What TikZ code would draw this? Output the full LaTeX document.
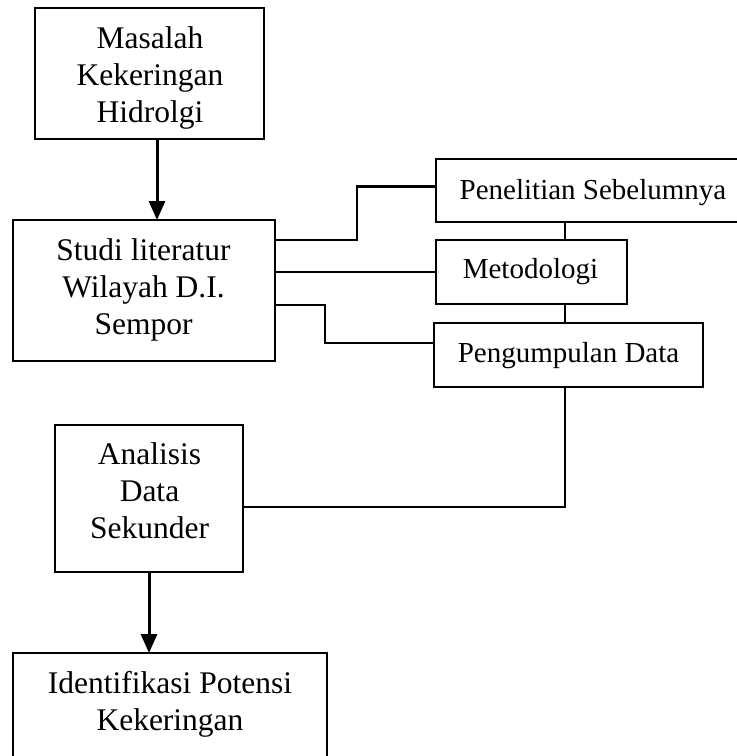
\documentclass[tikz,border=0pt]{standalone}
\usepackage{fontspec}
\setmainfont{Liberation Serif}
\usetikzlibrary{arrows.meta,calc}
\newcommand\bigst{\rule[-8pt]{0pt}{31pt}}
\newcommand\smst{\rule[-7pt]{0pt}{28pt}}
\begin{document}
\begin{tikzpicture}[x=1pt,y=-1pt,
  box/.style={draw, line width=1.8pt, inner sep=0pt, outer sep=0pt},
  bigtxt/.style={inner sep=0pt, align=center, font=\fontsize{31.5}{37}\selectfont},
  smtxt/.style={inner sep=0pt, align=center, font=\fontsize{29}{35}\selectfont},
  link/.style={line width=2.4pt},
  arr/.style={line width=3pt, -{Triangle[length=19pt,width=16pt]}}]
\useasboundingbox (0,0) rectangle (737,756);
\clip (0,0) rectangle (737,756);

% boxes
\node[box, minimum width=229pt, minimum height=131pt] (mas) at (149.5,73.5) {};
\node[box, minimum width=262pt, minimum height=141pt] (studi) at (144,290.5) {};
\node[box, minimum width=314pt, minimum height=63pt] (pen) at (593,190.5) {};
\node[box, minimum width=191pt, minimum height=64pt] (meto) at (531.5,272) {};
\node[box, minimum width=269pt, minimum height=64pt] (peng) at (568.5,355) {};
\node[box, minimum width=188pt, minimum height=147pt] (ana) at (149,498.5) {};
\node[box, minimum width=314pt, minimum height=137pt] (iden) at (170,721.5) {};

% texts
\node[bigtxt] (mast) at (150,77.5) {\bigst Masalah\\\bigst Kekeringan\\\bigst Hidrolgi};
\node[bigtxt] (studit) at (143.5,289.5) {\bigst Studi literatur\\\bigst Wilayah D.I.\\\bigst Sempor};
\node[bigtxt] (anat) at (149.5,494) {\bigst Analisis\\\bigst Data\\\bigst Sekunder};
\node[bigtxt] (ident) at (170,704) {\bigst Identifikasi Potensi\\\bigst Kekeringan};
\node[smtxt] (pent) at (593,192) {\smst Penelitian Sebelumnya};
\node[smtxt] (metot) at (530.5,271) {\smst Metodologi};
\node[smtxt] (pengt) at (568.5,355) {\smst Pengumpulan Data};

% helper coordinates
\coordinate (vx) at (565,0);
\coordinate (a1) at ($(mas.south)+(7.5,0)$);

% arrows
\draw[arr] (a1) -- (a1 |- studi.north);
\draw[arr] (ana.south) -- (ana.south |- iden.north);

% connectors
\draw[link] ($(studi.north east)+(0,20)$) -- ++(82,0) |- ($(pen.west)+(0,-4)$);
\draw[link] (studi.east |- meto.west) -- (meto.west);
\draw[link] ($(studi.north east)+(0,85)$) -- ++(50,0) |- ($(peng.north west)+(0,20)$);
\draw[link] (pen.south -| vx) -- (meto.north -| vx);
\draw[link] (meto.south -| vx) -- (peng.north -| vx);
\draw[link] (peng.south -| vx) |- ($(ana.east)+(0,8.5)$);
\end{tikzpicture}
\end{document}
